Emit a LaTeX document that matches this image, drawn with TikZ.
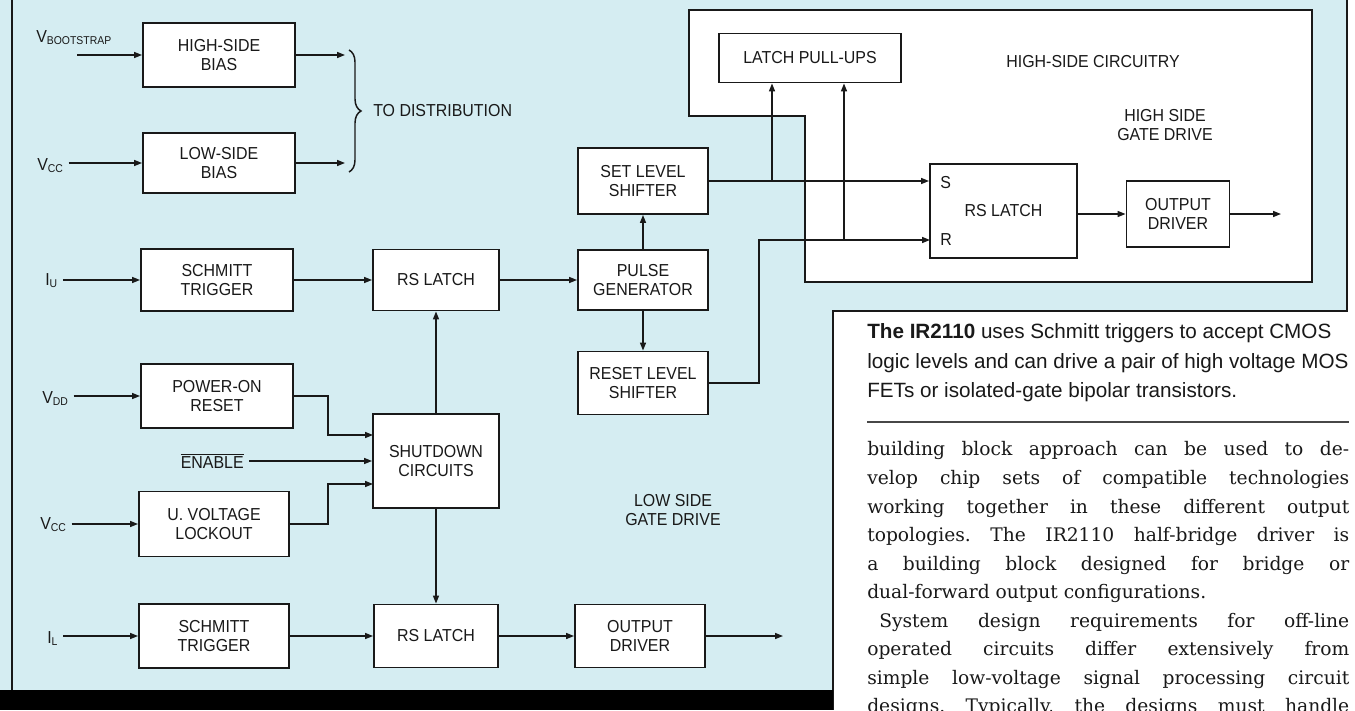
\documentclass[tikz,border=0pt]{standalone}
\usepackage{fontspec}
\newfontfamily\blockfont[FakeStretch=0.92]{Liberation Sans}
\newfontfamily\capfont{Liberation Sans}
\newfontfamily\bodyfont{DejaVu Serif}
\usetikzlibrary{arrows.meta,decorations.pathreplacing,positioning}
\definecolor{panelblue}{RGB}{213,237,242}
\definecolor{ink}{RGB}{25,25,25}
\newcommand{\sigl}[2]{#1\raisebox{-1.5pt}{\fontsize{8.5}{9}\selectfont #2}}

\begin{document}
\begin{tikzpicture}[x=0.75pt,y=-0.75pt,
  every node/.style={font=\blockfont\fontsize{13}{14.6}\selectfont, text=ink, inner sep=0pt, align=center},
  blk/.style={draw=ink, fill=white, line width=1.4pt},
  arr/.style={-{Triangle[length=6pt,width=4.5pt]}, line width=1.1pt, draw=ink},
  inarr/.style={arr, shorten <=4pt},
  bodyline/.style={anchor=base west, align=left, font=\bodyfont\fontsize{14}{16}\selectfont\frenchspacing},
  capline/.style={anchor=base west, align=left, font=\capfont\fontsize{15.5}{18}\selectfont}]
  \useasboundingbox (0,0) rectangle (1355,710);
  \clip (0,0) rectangle (1355,710);
  \fill[white] (0,0) rectangle (1355,710);
  \fill[panelblue] (0,0) -- (1347,0) -- (1347,311) -- (833,311) -- (833,690) -- (0,690) -- cycle;
  \draw[ink, line width=1.4pt] (12,0) -- (12,690);
  \draw[ink, line width=1.4pt] (1347,0) -- (1347,311) -- (833,311) -- (833,710);
  \fill[black] (0,690) rectangle (833,710);
  \draw[ink, fill=white, line width=1.3pt] (689,10) -- (1312,10) -- (1312,282) -- (805,282) -- (805,116) -- (689,116) -- cycle;

  \foreach \n/\x/\y/\w/\h/\t in {
    hsbias/219/55/152/64/HIGH-SIDE\\BIAS,
    lsbias/219/163/152/60/LOW-SIDE\\BIAS,
    schmU/217/280/152/62/SCHMITT\\TRIGGER,
    por/217/396/152/64/POWER-ON\\RESET,
    uvlo/214/524/150/65/U. VOLTAGE\\LOCKOUT,
    schmL/214/636/150/64/SCHMITT\\TRIGGER,
    latchU/436/280/126/61/RS LATCH,
    shut/436/461/126/94/SHUTDOWN\\CIRCUITS,
    latchL/436/636/124/63/RS LATCH,
    setls/643/181/130/66/SET LEVEL\\SHIFTER,
    pulse/643/280/130/60/PULSE\\GENERATOR,
    resetls/643/383/130/63/RESET LEVEL\\SHIFTER,
    outL/640/636/130/63/OUTPUT\\DRIVER,
    pullups/810/58/182/49/LATCH PULL-UPS,
    hslatch/1003.5/211/147/94/RS LATCH,
    outH/1178/214/103/66/OUTPUT\\DRIVER}{
      \node[blk, minimum width=\w*0.75pt, minimum height=\h*0.75pt] (\n) at (\x,\y) {\t};
  }

  \node[anchor=base west] (vboot) at (36,43) {\sigl{V}{BOOTSTRAP}};
  \node[anchor=base west] (vcc1) at (37,170) {\sigl{V}{CC}};
  \node[anchor=base west] (iu) at (45,285) {\sigl{I}{U}};
  \node[anchor=base west] (vdd) at (42,403) {\sigl{V}{DD}};
  \node[anchor=base east] (enable) at (244,468) {$\overline{\mbox{ENABLE}}$};
  \node[anchor=base west] (vcc2) at (40,529) {\sigl{V}{CC}};
  \node[anchor=base west] (il) at (47,643) {\sigl{I}{L}};

  \node[anchor=west] (todist) at (373,111) {TO DISTRIBUTION};
  \node (lsgd) at (673,510) {LOW SIDE\\GATE DRIVE};
  \node (hscirc) at (1093,62) {HIGH-SIDE CIRCUITRY};
  \node (hsgd) at (1165,125) {HIGH SIDE\\GATE DRIVE};
  \node[anchor=west] (slab) at (940,183) {S};
  \node[anchor=west] (rlab) at (940,240) {R};

  \coordinate (vbootin) at (77,55);
  \coordinate (hsbout) at (345,55);
  \coordinate (jog) at (328,0);
  \coordinate (sdin1) at (373,435);
  \coordinate (sdin2) at (373,484);
  \coordinate (rjog) at (759,0);
  \coordinate (rin) at (930,240);
  \coordinate (pu1) at (772,181);
  \coordinate (pu2) at (844,240);
  \coordinate (hsdrv) at (1281,214);
  \coordinate (lsdrv) at (783,636);

  \draw[arr] (vbootin) -- (hsbias);
  \draw[inarr] (vcc1.east |- lsbias) -- (lsbias);
  \draw[arr] (hsbias) -- (hsbout);
  \draw[arr] (lsbias.east) -- (lsbias.east -| hsbout);
  \draw[ink, line width=1.1pt, decorate, decoration={brace, amplitude=9pt}] (349,50) -- (349,172);

  \draw[inarr] (iu.east |- schmU) -- (schmU);
  \draw[arr] (schmU) -- (latchU);
  \draw[arr] (latchU) -- (pulse);
  \draw[arr] (pulse) -- (setls);
  \draw[arr] (pulse) -- (resetls);

  \draw[inarr] (vdd.east |- por) -- (por);
  \draw[arr] (por.east) -| (jog |- sdin1) -- (sdin1);
  \draw[inarr] (enable.east |- shut) -- (shut);
  \draw[inarr] (vcc2.east |- uvlo) -- (uvlo);
  \draw[arr] (uvlo.east) -| (jog |- sdin2) -- (sdin2);
  \draw[arr] (shut) -- (latchU);
  \draw[arr] (shut) -- (latchL);

  \draw[inarr] (il.east |- schmL) -- (schmL);
  \draw[arr] (schmL) -- (latchL);
  \draw[arr] (latchL) -- (outL);
  \draw[arr] (outL) -- (lsdrv);

  \draw[arr] (setls) -- (setls -| hslatch.west);
  \draw[arr] (resetls.east) -| (rjog |- rin) -- (rin);
  \draw[arr] (pu1) -- (pu1 |- pullups.south);
  \draw[arr] (pu2) -- (pu2 |- pullups.south);
  \draw[arr] (hslatch.east |- outH) -- (outH);
  \draw[arr] (outH) -- (hsdrv);

  \node[capline] (cap1) at (867,338) {\textbf{The IR2110} uses Schmitt triggers to accept CMOS};
  \node[capline] (cap2) at (867,368) {logic levels and can drive a pair of high voltage MOS};
  \node[capline] (cap3) at (867,397) {FETs or isolated-gate bipolar transistors.};
  \draw[ink!80, line width=0.8pt] (867,422) -- (1349,422);

  \foreach \y/\t in {
    455/{building block approach can be used to de-},
    484/{velop chip sets of compatible technologies},
    513/{working together in these different output},
    541/{topologies. The IR2110 half-bridge driver is},
    570/{a building block designed for bridge or},
    655/{operated circuits differ extensively from},
    684/{simple low-voltage signal processing circuit},
    712/{designs. Typically, the designs must handle}}{
      \node[bodyline] (body\y) at (867,\y) {\makebox[361.5pt][s]{\t}};
  }
  \node[bodyline] (body598) at (867,598) {dual-forward output configurations.};
  \node[bodyline] (body627) at (879,627) {\makebox[352.5pt][s]{System design requirements for off-line}};
\end{tikzpicture}
\end{document}
